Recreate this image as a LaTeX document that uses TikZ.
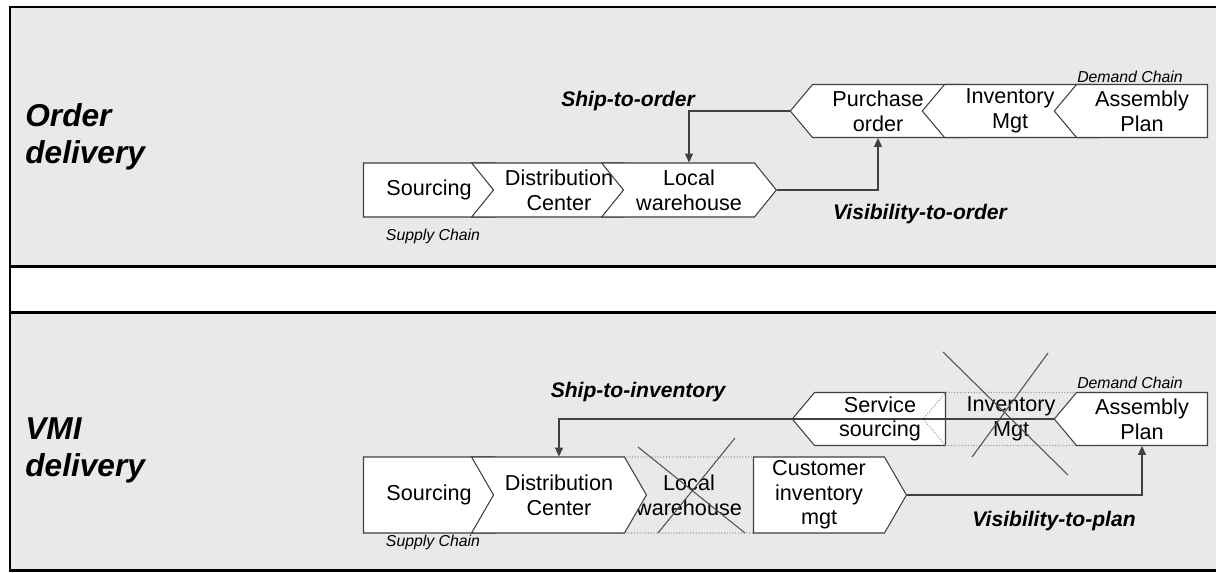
\documentclass[tikz,border=0pt]{standalone}
\usepackage{fontspec}
\setmainfont{Liberation Sans}
\usetikzlibrary{shapes.symbols,arrows.meta,positioning}
\definecolor{panelgray}{HTML}{E9E9E9}
\definecolor{chevline}{HTML}{404040}
\definecolor{dropgray}{HTML}{9A9A9A}
\definecolor{crossgray}{HTML}{505050}

\begin{document}
\begin{tikzpicture}[x=0.02cm, y=-0.02cm,
  panel/.style={fill=panelgray, draw=black, line width=1.7pt},
  chev/.style={signal, draw=chevline, fill=white, line width=0.6pt, inner xsep=0pt, inner ysep=0pt, text width=2.62cm, align=center, font=\fontsize{12.3}{14}\selectfont},
  toprow/.style={minimum height=1.08cm, signal pointer angle=102},
  highrow/.style={minimum height=1.52cm, signal pointer angle=120},
  demrow/.style={minimum height=1.06cm, signal pointer angle=100},
  first/.style={signal from=nowhere, signal to=east},
  fwd/.style={signal from=west, signal to=east},
  back/.style={signal from=east, signal to=west},
  last/.style={signal from=nowhere, signal to=west},
  dropped/.style={fill=none, draw=dropgray, densely dotted},
  flow/.style={-{Triangle[length=5pt,width=4.5pt]}, chevline, line width=0.6pt},
  cross/.style={crossgray, line width=0.6pt},
  heading/.style={font=\fontsize{18}{21}\selectfont\bfseries\itshape, align=left, anchor=west, inner sep=0pt},
  flowlabel/.style={font=\fontsize{12}{14}\selectfont\bfseries\itshape},
  chainlabel/.style={font=\fontsize{9}{10}\selectfont\itshape}
]
  \useasboundingbox (0,0) rectangle (1216,572);
  \clip (0,0) rectangle (1216,572);

  % two panels
  \draw[panel] (10,7) rectangle (1240,266);
  \draw[panel] (10,312) rectangle (1240,570);
  \draw[black, line width=1.7pt] (10,266) -- (10,312);

  \node[heading] (order) at (25,137) {Order\\delivery};
  \node[heading] (vmi) at (25,450) {VMI\\delivery};

  % Order delivery
  \node[chev, toprow, first] (srcA) at (429,190) {Sourcing};
  \node[chev, toprow, fwd] (dcA) at (559,190) {Distribution\\Center};
  \node[chev, toprow, fwd] (lwA) at (689,190) {Local\\warehouse};
  \node[chev, demrow, back] (poA) at (878,111) {Purchase\\order};
  \node[chev, demrow, back] (imA) at (1010,111) {Inventory\\Mgt};
  \node[chev, demrow, last] (apA) at (1142,111) {Assembly\\Plan};

  \draw[flow] (poA.west) -| (lwA.north);
  \draw[flow] (lwA.east) -| (poA.south);

  \node[flowlabel] (shipA) at (628,101) {Ship-to-order};
  \node[flowlabel] (visA) at (920,214) {Visibility-to-order};
  \node[chainlabel] (supA) at (433,236) {Supply Chain};
  \node[chainlabel] (demA) at (1130,77) {Demand Chain};

  % VMI delivery
  \node[chev, highrow, first] (srcB) at (429,495) {Sourcing};
  \node[chev, highrow, fwd, dropped] (lwB) at (689,495) {Local\\warehouse};
  \node[chev, highrow, fwd] (dcB) at (559,495) {Distribution\\Center};
  \node[chev, highrow, first] (cimB) at (819,495) {Customer\\inventory\\mgt};
  \node[chev, demrow, last] (ssB) at (880,419) {Service\\sourcing};
  \node[chev, demrow, back, dropped] (imB) at (1011,419) {Inventory\\Mgt};
  \node[chev, demrow, last] (apB) at (1142,419) {Assembly\\Plan};

  \draw[cross] ([shift={(-51,-48)}]lwB.center) -- ([shift={(56,38)}]lwB.center);
  \draw[cross] ([shift={(46,-57)}]lwB.center) -- ([shift={(-31,38)}]lwB.center);
  \draw[cross] ([shift={(-68,-67)}]imB.center) -- ([shift={(57,56)}]imB.center);
  \draw[cross] ([shift={(37,-66)}]imB.center) -- ([shift={(-39,38)}]imB.center);

  \draw[flow] (apB.west) -| (dcB.north);
  \draw[flow] (cimB.east) -| (apB.south);

  \node[flowlabel] (shipB) at (638,392) {Ship-to-inventory};
  \node[flowlabel] (visB) at (1054,521) {Visibility-to-plan};
  \node[chainlabel] (supB) at (433,542) {Supply Chain};
  \node[chainlabel] (demB) at (1130,383) {Demand Chain};
\end{tikzpicture}
\end{document}
